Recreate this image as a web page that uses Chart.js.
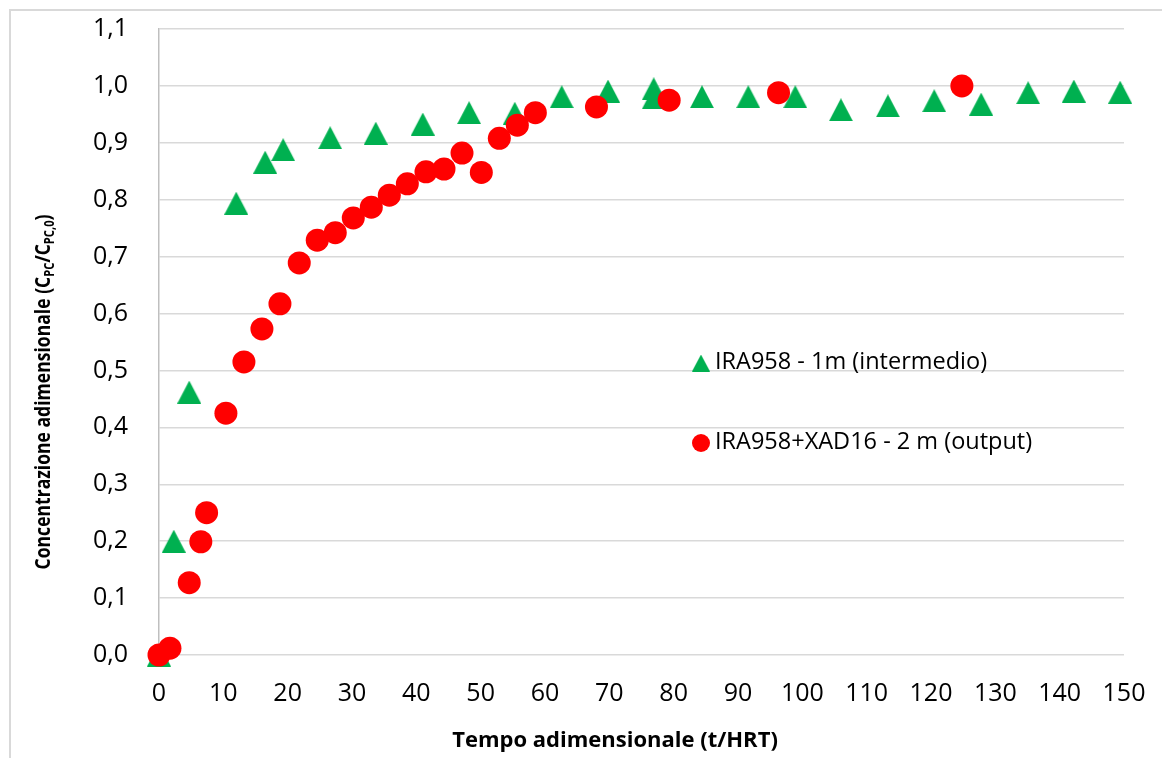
<!DOCTYPE html>
<html>
<head>
<meta charset="utf-8">
<script src="https://cdn.jsdelivr.net/npm/chart.js@4/dist/chart.umd.min.js"></script>
<style>
  html, body { margin: 0; padding: 0; background: #fff; overflow: hidden; }
  #wrap { position: relative; width: 1162px; height: 758px; }
</style>
</head>
<body>
<div id="wrap"><canvas id="chart" width="1162" height="758"></canvas></div>
<script>
// Valori
const ira958Label = 'IRA958 - 1m (intermedio)';
const ira958X = [0, 2.3, 4.7, 12.0, 16.5, 19.3, 26.6, 33.7, 41.0, 48.2, 55.3, 62.6, 69.8, 76.9, 76.9,
                 84.4, 91.6, 98.9, 106.0, 113.3, 120.5, 127.8, 135.1, 142.2, 149.4];
const ira958Y = [0, 0.200, 0.462, 0.794, 0.866, 0.888, 0.909, 0.917, 0.933, 0.953, 0.952, 0.981, 0.991, 0.995, 0.979,
                 0.981, 0.981, 0.981, 0.958, 0.965, 0.974, 0.968, 0.988, 0.991, 0.989];

const xadLabel = 'IRA958+XAD16 - 2 m (output)';
const xadX = [0, 1.7, 4.7, 6.5, 7.4, 10.4, 13.2, 16.0, 18.8, 21.8, 24.6, 27.4, 30.2, 33.0, 35.8, 38.6,
              41.5, 44.3, 47.1, 50.1, 52.9, 55.7, 58.5, 68.0, 79.3, 96.3, 124.8];
const xadY = [0, 0.012, 0.127, 0.199, 0.250, 0.425, 0.515, 0.573, 0.617, 0.689, 0.729, 0.742, 0.768, 0.787, 0.808, 0.828,
              0.849, 0.854, 0.882, 0.848, 0.908, 0.931, 0.953, 0.963, 0.975, 0.988, 1.000];

const xTicks = [0, 10, 20, 30, 40, 50, 60, 70, 80, 90, 100, 110, 120, 130, 140, 150];
const yTicks = [0, 0.1, 0.2, 0.3, 0.4, 0.5, 0.6, 0.7, 0.8, 0.9, 1.0, 1.1];

const GREEN = '#00b050';
const RED = '#ff0000';
const FONT = '"Open Sans", sans-serif';

// Triangolo stile Excel (centrato sul riquadro)
function makeTriangle(w, h, color) {
    const c = document.createElement('canvas');
    c.width = w; c.height = h;
    const g = c.getContext('2d');
    g.fillStyle = color;
    g.beginPath();
    g.moveTo(w / 2, 0);
    g.lineTo(w, h);
    g.lineTo(0, h);
    g.closePath();
    g.fill();
    return c;
}

const triangle = makeTriangle(24, 23, GREEN);
const legendTriangle = makeTriangle(18, 17, GREEN);

const toPoints = (xs, ys) => xs.map((x, i) => ({ x: x, y: ys[i] }));

// scrive un testo (a pezzi) stretto alla lunghezza voluta
function fitText(ctx, parts, cx, cy, target, angle) {
    let total = 0;
    parts.forEach(p => { ctx.font = p.f; p.w = ctx.measureText(p.t).width; total += p.w; });
    ctx.save();
    ctx.translate(cx, cy);
    ctx.rotate(angle);
    ctx.scale(Math.min(1, target / total), 1);
    ctx.textAlign = 'left';
    ctx.textBaseline = 'middle';
    let x = -total / 2;
    parts.forEach(p => { ctx.font = p.f; ctx.fillText(p.t, x, p.dy || 0); x += p.w; });
    ctx.restore();
}

// Titoli, bordo e legenda disegnati a mano
const decorPlugin = {
    id: 'decor',
    beforeDraw(chart) {
        const ctx = chart.ctx;
        ctx.save();
        ctx.fillStyle = '#fff';
        ctx.fillRect(0, 0, chart.width, chart.height);
        ctx.strokeStyle = '#d9d9d9';
        ctx.lineWidth = 2;
        ctx.strokeRect(10, 10, chart.width + 40, chart.height + 40);
        ctx.restore();
    },
    afterDraw(chart) {
        const ctx = chart.ctx;
        const area = chart.chartArea;
        ctx.save();
        ctx.fillStyle = '#000';

        const main = 'bold 22px ' + FONT;
        const sub = 'bold 14px ' + FONT;

        // Titolo asse X
        fitText(ctx, [{ t: 'Tempo adimensionale (t/HRT)', f: main }], 615, 741, 332, 0);

        // Titolo asse Y con pedici
        fitText(ctx, [
            { t: 'Concentrazione adimensionale (C', f: main },
            { t: 'PC', f: sub, dy: 6 },
            { t: '/C', f: main },
            { t: 'PC,0', f: sub, dy: 6 },
            { t: ')', f: main }
        ], 44, 392, 355, -Math.PI / 2);

        // Legenda interna
        ctx.font = '23.5px ' + FONT;
        ctx.textAlign = 'left';
        ctx.textBaseline = 'middle';
        const lx = area.left + 542;
        ctx.drawImage(legendTriangle, lx - 9, 363 - 8.5);
        ctx.fillText(ira958Label, lx + 14, 362);
        ctx.fillStyle = RED;
        ctx.beginPath();
        ctx.arc(lx, 443, 9, 0, Math.PI * 2);
        ctx.fill();
        ctx.fillStyle = '#000';
        ctx.fillText(xadLabel, lx + 14, 442);
        ctx.restore();
    }
};

const ctx = document.getElementById('chart').getContext('2d');

new Chart(ctx, {
    type: 'scatter',
    data: {
        datasets: [
            {
                label: ira958Label,
                data: toPoints(ira958X, ira958Y),
                pointStyle: triangle,
                clip: false,
                order: 2
            },
            {
                label: xadLabel,
                data: toPoints(xadX, xadY),
                pointStyle: 'circle',
                pointRadius: 11.5,
                backgroundColor: RED,
                borderWidth: 0,
                clip: false,
                order: 1
            }
        ]
    },
    options: {
        responsive: false,
        animation: false,
        layout: { autoPadding: false, padding: { left: 0, right: 38, top: 29, bottom: 0 } },
        scales: {
            x: {
                type: 'linear',
                min: 0,
                max: 150,
                afterBuildTicks: s => { s.ticks = xTicks.map(v => ({ value: v })); },
                afterFit: s => { s.height = 103; s.paddingLeft = 0; s.paddingRight = 0; },
                grid: { display: false, drawTicks: false },
                border: { display: false },
                ticks: {
                    color: '#000',
                    font: { family: FONT, size: 25 },
                    padding: 24,
                    maxRotation: 0,
                    autoSkip: false
                }
            },
            y: {
                min: 0,
                max: 1.1,
                afterBuildTicks: s => { s.ticks = yTicks.map(v => ({ value: v })); },
                afterFit: s => { s.width = 159; s.paddingTop = 0; s.paddingBottom = 0; },
                grid: { color: '#d9d9d9', lineWidth: 1.5, drawTicks: false },
                border: { display: true, color: '#bfbfbf', width: 1.5 },
                ticks: {
                    color: '#000',
                    font: { family: FONT, size: 25 },
                    padding: 31,
                    autoSkip: false,
                    callback: v => v.toFixed(1).replace('.', ',')
                }
            }
        },
        plugins: {
            legend: { display: false },
            tooltip: { enabled: false }
        }
    },
    plugins: [decorPlugin]
});
</script>
</body>
</html>
